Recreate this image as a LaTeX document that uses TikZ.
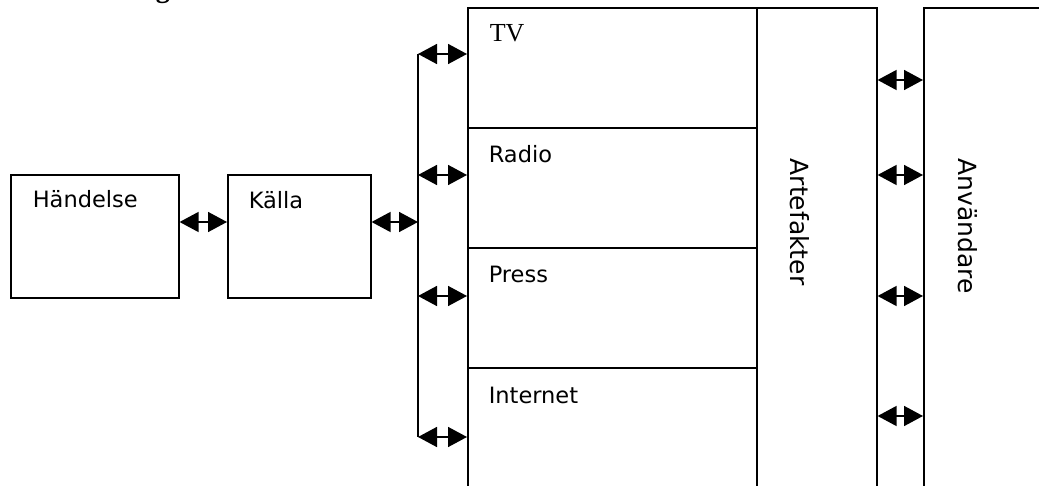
\documentclass[tikz,border=0pt]{standalone}
\usepackage{fontspec}
\setmainfont{Liberation Serif}
\newfontfamily\dvs{DejaVu Sans}
\usetikzlibrary{arrows.meta}
\begin{document}
\begin{tikzpicture}[x=1pt,y=-1pt,line width=1.6pt,
  box/.style={draw,rectangle,inner sep=0pt,anchor=north west},
  lbl/.style={font=\dvs\fontsize{22.5}{26}\selectfont,inner sep=0pt,anchor=base west},
  vlbl/.style={font=\dvs\fontsize{25}{28}\selectfont,inner sep=0pt,anchor=base west,rotate=-90},
  dbl/.style={{Triangle[length=19pt,width=20pt]}-{Triangle[length=19pt,width=20pt]},line width=1.6pt}]
\useasboundingbox (0,0) rectangle (1039,486);
\clip (0,0) rectangle (1039,486);
% heading fragment
\node[font=\bfseries\fontsize{28}{30}\selectfont,inner sep=0pt,anchor=base west] (g) at (155,-2.5) {g};
% boxes
\node[box,minimum width=168pt,minimum height=123pt] (h) at (10,174) {};
\node[box,minimum width=143pt,minimum height=123pt] (k) at (227,174) {};
\node[box,minimum width=289pt,minimum height=120pt] (tv) at (467,7) {};
\node[box,minimum width=289pt,minimum height=120pt] (ra) at (467,127) {};
\node[box,minimum width=289pt,minimum height=120pt] (pr) at (467,247) {};
\node[box,minimum width=289pt,minimum height=130pt] (in) at (467,367) {};
\node[box,minimum width=120pt,minimum height=490pt] (art) at (756,7) {};
\node[box,minimum width=130pt,minimum height=490pt] (anv) at (923,7) {};
% labels
\node[lbl] (ht) at (32,208) {Händelse};
\node[lbl] (kt) at (248,209) {Källa};
\node[font=\fontsize{26}{28}\selectfont,inner sep=0pt,anchor=base west] (tvt) at (489,42) {TV};
\node[lbl] (rat) at (488,163) {Radio};
\node[lbl] (prt) at (488,283) {Press};
\node[lbl] (int) at (488,403) {Internet};
\node[vlbl] (artt) at (790,158) {Artefakter};
\node[vlbl] (anvt) at (958,158) {Användare};
% bar
\coordinate (b1) at (418,54);
\coordinate (b2) at (418,175);
\coordinate (b3) at (418,296);
\coordinate (b4) at (418,437);
\coordinate (lvl) at (0,222);
\draw (b1) -- (b4);
% connectors
\draw[dbl] (h.east |- lvl) -- (k.west |- lvl);
\draw[dbl] (k.east |- lvl) -- (b1 |- lvl);
\draw[dbl] (b1) -- (b1 -| tv.west);
\draw[dbl] (b2) -- (b2 -| ra.west);
\draw[dbl] (b3) -- (b3 -| pr.west);
\draw[dbl] (b4) -- (b4 -| in.west);
\coordinate (r1) at (876,80);
\coordinate (r2) at (876,175);
\coordinate (r3) at (876,296);
\coordinate (r4) at (876,416);
\draw[dbl] (r1 -| art.east) -- (r1 -| anv.west);
\draw[dbl] (r2 -| art.east) -- (r2 -| anv.west);
\draw[dbl] (r3 -| art.east) -- (r3 -| anv.west);
\draw[dbl] (r4 -| art.east) -- (r4 -| anv.west);
\end{tikzpicture}
\end{document}
